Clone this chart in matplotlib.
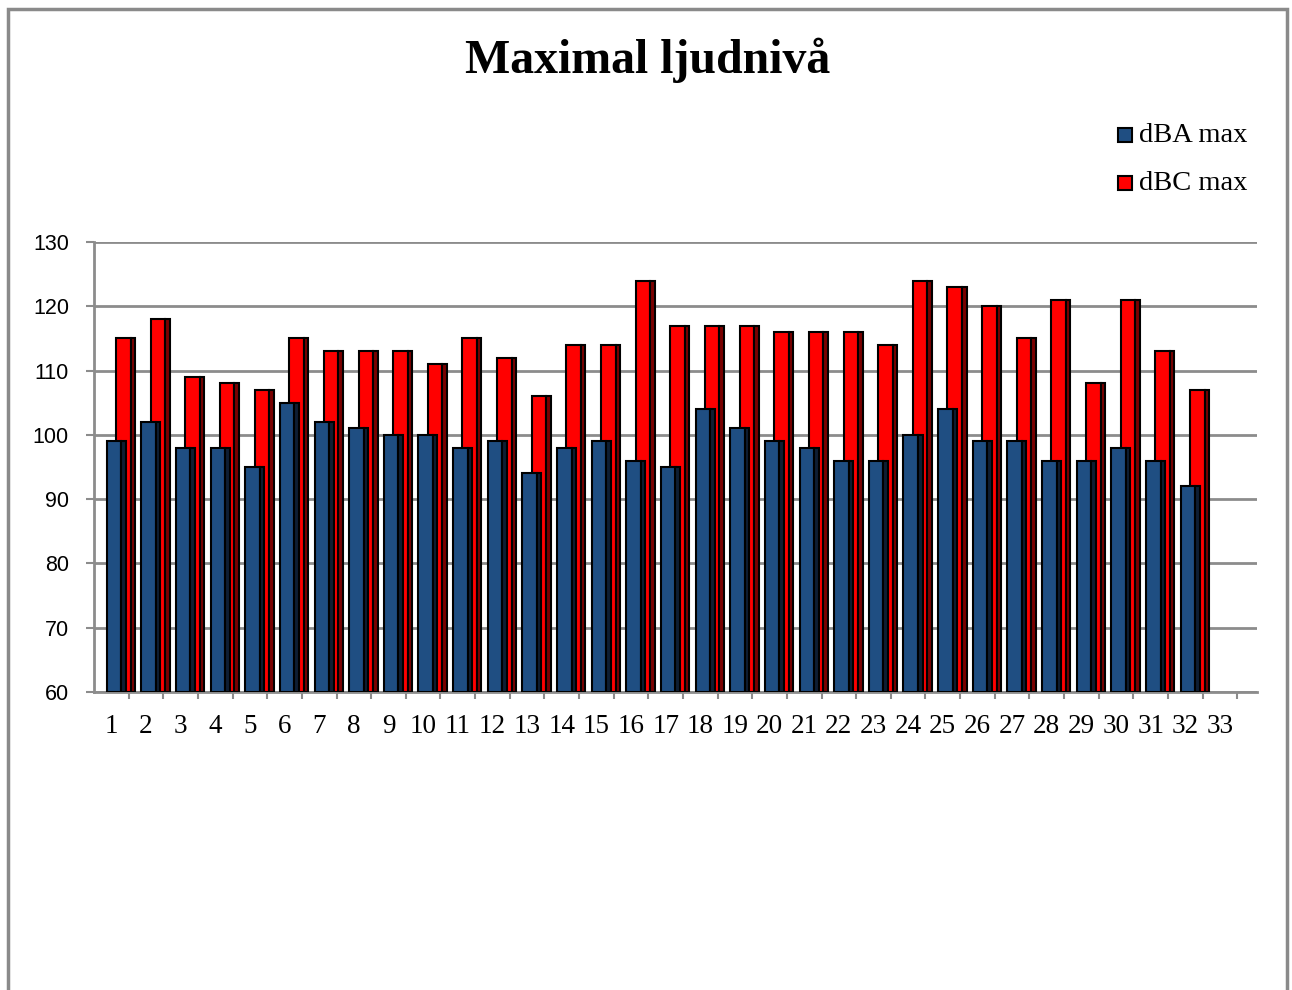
import matplotlib
matplotlib.use("Agg")
import matplotlib.pyplot as plt
from matplotlib.patches import Rectangle
import numpy as np

# ---- data ----
categories = [str(i) for i in range(1, 34)]
dba_max = [99, 102, 98, 98, 95, 105, 102, 101, 100, 100, 98, 99, 94, 98, 99, 96,
           95, 104, 101, 99, 98, 96, 96, 100, 104, 99, 99, 96, 96, 98, 96, 92]
dbc_max = [115, 118, 109, 108, 107, 115, 113, 113, 113, 111, 115, 112, 106, 114, 114, 124,
           117, 117, 117, 116, 116, 116, 114, 124, 123, 120, 115, 121, 108, 121, 113, 107]
y_ticks = [60, 70, 80, 90, 100, 110, 120, 130]
series_names = ["dBA max", "dBC max"]

blue = "#1F4E82"
blue_side = "#0E1E33"
red = "#FF0000"
red_side = "#7A0000"
grid_gray = "#8C8C8C"

W, H = 1292, 990
fig = plt.figure(figsize=(W / 100, H / 100), dpi=100)

# outer chart frame
fig.patches.append(Rectangle((8 / W, -0.05), (1287 - 8) / W, 1.05 - 9 / H,
                             transform=fig.transFigure, fill=False,
                             edgecolor="#8A8A8A", linewidth=2.5))

ax = fig.add_axes([94 / W, 1 - 692 / H, (1257 - 94) / W, (692 - 242) / H])

base = y_ticks[0]
x = np.arange(len(dba_max))
face_w = 0.42
side_w = 0.13
off = 0.135

# red column sits behind, blue one in front (3D clustered look)
h_c = np.array(dbc_max) - base
ax.bar(x + off, h_c, bottom=base, width=face_w, align="edge",
       color=red, edgecolor="black", linewidth=1.5, zorder=3)
ax.bar(x + off + face_w, h_c, bottom=base, width=side_w, align="edge",
       color=red_side, edgecolor="black", linewidth=1.5, zorder=3)

h_a = np.array(dba_max) - base
ax.bar(x - off, h_a, bottom=base, width=face_w, align="edge",
       color=blue, edgecolor="black", linewidth=1.5, zorder=4)
ax.bar(x - off + face_w, h_a, bottom=base, width=side_w, align="edge",
       color=blue_side, edgecolor="black", linewidth=1.5, zorder=4)

ax.set_ylim(60, 130)
ax.set_xlim(-0.5, 33.07)
ax.set_yticks(y_ticks)
ax.set_yticklabels([str(v) for v in y_ticks], fontfamily="Liberation Sans", fontsize=15.5)
ax.yaxis.grid(True, color=grid_gray, linewidth=2)
ax.set_axisbelow(True)
ax.tick_params(axis="y", length=6, width=1.5, color=grid_gray, pad=12)

ax.set_xticks(np.arange(len(categories)))
ax.set_xticklabels(categories, fontfamily="Liberation Serif", fontsize=19.5)
ax.set_xticks(np.arange(len(categories)) + 0.5, minor=True)
ax.tick_params(axis="x", which="major", length=0, pad=16)
ax.tick_params(axis="x", which="minor", length=5, width=1.5, color=grid_gray)

for s in ["top", "right"]:
    ax.spines[s].set_visible(False)
for s in ["left", "bottom"]:
    ax.spines[s].set_color(grid_gray)
    ax.spines[s].set_linewidth(2)

# title
fig.text(648 / W, 1 - 60 / H, "Maximal ljudnivå", ha="center", va="center",
         fontfamily="Liberation Serif", fontweight="bold", fontsize=34.5)

# legend drawn by hand
for i, (name, col) in enumerate(zip(series_names, [blue, red])):
    yc = 135 + 48 * i
    fig.patches.append(Rectangle((1118 / W, 1 - (yc + 7) / H), 14 / W, 14 / H,
                                 transform=fig.transFigure, facecolor=col,
                                 edgecolor="black", linewidth=1.5))
    fig.text(1139 / W, 1 - (yc + 1) / H, name, ha="left", va="center",
             fontfamily="Liberation Serif", fontsize=20.5)

fig.savefig("out.png", dpi=100)
